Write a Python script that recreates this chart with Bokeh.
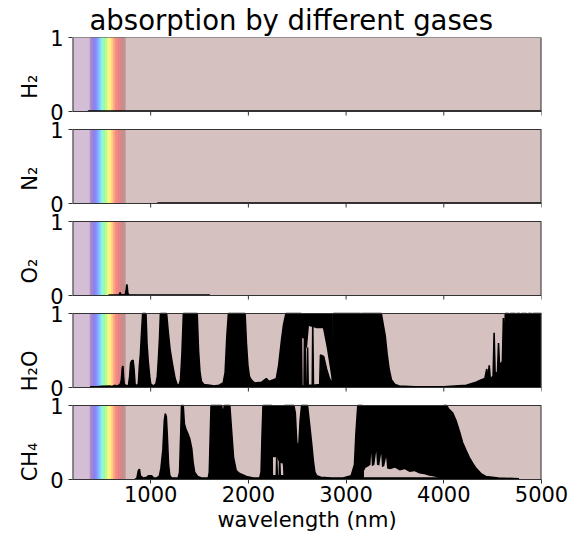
import math
from bokeh.plotting import figure
from bokeh.models import Range1d, FixedTicker, LinearAxis
from bokeh.embed import file_html
from bokeh.resources import INLINE

title_text = "absorption by different gases"
x_label = "wavelength (nm)"
gas_labels = ["H₂", "N₂", "O₂", "H₂O", "CH₄"]
x_ticks = [1000, 2000, 3000, 4000, 5000]
y_ticks = [0, 1]
x_min, x_max = 200, 5000

# background regions (nm)
uv_left, uv_right = [200], [380]
rainbow_left = [380, 400, 420, 440, 460, 480, 500, 520, 540, 560, 580, 600, 620, 640, 660, 680, 700, 720]
rainbow_right = [400, 420, 440, 460, 480, 500, 520, 540, 560, 580, 600, 620, 640, 660, 680, 700, 720, 740]
rainbow_colors = ["#ab8ccc", "#9a84dc", "#8c82f2", "#8494ff", "#84b4ff", "#86dcff", "#8cfce0",
                  "#9cfc9c", "#c4fc8c", "#f2fc84", "#fff084", "#ffcc84", "#ffa684", "#f88884",
                  "#ee8484", "#dc8686", "#cc8a8a", "#c49090"]

# H2
h2_wl = [357, 1000, 2000, 3000, 4000, 5000]
h2_abs = [0.006, 0.006, 0.006, 0.006, 0.006, 0.006]

# N2
n2_wl = [1067, 2000, 3000, 4000, 5000]
n2_abs = [0.006, 0.006, 0.006, 0.006, 0.006]

# O2
o2_wl = [568, 650, 680, 687, 694, 740, 750, 756, 760, 766, 775, 900, 1200, 1606]
o2_abs = [0.006, 0.006, 0.01, 0.04, 0.01, 0.01, 0.08, 0.15, 0.12, 0.03, 0.01, 0.006, 0.006, 0.006]

# H2O
h2o_wl = [380, 450, 500, 585, 600, 636, 650, 687, 700, 710, 716, 722, 730, 745, 772, 785, 795, 806,
          820, 830, 840, 850, 874, 885, 895, 905, 918, 952, 962, 975, 990, 1000, 1027, 1054, 1068,
          1080, 1090, 1100, 1163, 1180, 1200, 1225, 1250, 1270, 1290, 1305, 1320, 1335, 1476, 1490,
          1505, 1520, 1545, 1606, 1650, 1700, 1742, 1762, 1780, 1796, 1966, 1980, 1995, 2010, 2031,
          2065, 2133, 2184, 2210, 2250, 2286, 2310, 2340, 2360, 2385, 2540, 2548, 2570, 2574, 2580,
          2586, 2602, 2606, 2612, 2654, 2659, 2666, 2730, 2738, 2770, 2800, 2830, 2860, 2870, 3150,
          3155, 3160, 3360, 3380, 3400, 3420, 3440, 3465, 3500, 3545, 3700, 4000, 4230, 4330, 4380,
          4420, 4440, 4450, 4465, 4475, 4505, 4515, 4525, 4550, 4560, 4570, 4600, 4610, 4620, 4630,
          4662, 4669, 4678, 4730, 4737, 4745, 4780, 4788, 4796, 4848, 4856, 4864, 4900, 4907, 4914,
          5000]
h2o_abs = [0.01, 0.01, 0.015, 0.02, 0.01, 0.03, 0.015, 0.04, 0.1, 0.27, 0.29, 0.15, 0.04, 0.03, 0.02,
           0.15, 0.33, 0.36, 0.37, 0.25, 0.05, 0.02, 0.05, 0.3, 0.45, 0.7, 1.0, 1.0, 0.6, 0.35, 0.15,
           0.05, 0.02, 0.05, 0.15, 0.4, 0.65, 1.0, 1.0, 0.75, 0.5, 0.3, 0.12, 0.04, 0.03, 0.1, 0.45,
           1.0, 1.0, 0.5, 0.2, 0.08, 0.04, 0.03, 0.02, 0.03, 0.06, 0.2, 0.7, 1.0, 1.0, 0.6, 0.3, 0.15,
           0.1, 0.06, 0.07, 0.12, 0.08, 0.1, 0.12, 0.3, 0.65, 0.85, 1.0, 1.0, 0.02, 0.02, 0.66, 0.66,
           0.03, 0.03, 0.54, 0.03, 0.03, 0.84, 0.03, 0.04, 0.44, 0.42, 0.25, 0.12, 0.05, 1.0, 1.0,
           0.6, 1.0, 1.0, 0.85, 0.7, 0.45, 0.25, 0.1, 0.04, 0.02, 0.01, 0.01, 0.03, 0.07, 0.1,
           0.12, 0.25, 0.1, 0.3, 0.12, 0.15, 0.74, 0.2, 0.2, 0.6, 0.3, 0.35, 0.94, 0.5, 1.0,
           1.0, 0.4, 1.0, 1.0, 0.5, 1.0, 1.0, 0.45, 1.0, 1.0, 0.05, 1.0, 1.0, 0.75, 1.0,
           1.0]
# H2O saturated upper band above the gaps near 2.7 um
h2o_band_wl = [2540, 2548, 2570, 2585, 2600, 2620, 2700, 2763, 2800, 2830, 2865]
h2o_band_lo = [0.0, 0.67, 0.66, 0.55, 0.53, 0.83, 0.8, 0.8, 0.55, 0.3, 0.0]
h2o_band_hi = [1.0, 1.0, 1.0, 1.0, 1.0, 1.0, 1.0, 1.0, 1.0, 1.0, 1.0]

# CH4
ch4_wl = [840, 860, 874, 885, 895, 925, 960, 976, 1010, 1030, 1060, 1090, 1105, 1125, 1140, 1150,
          1160, 1170, 1183, 1196, 1215, 1282, 1296, 1305, 1316, 1333, 1345, 1360, 1380, 1400, 1420,
          1435, 1450, 1480, 1520, 1590, 1600, 1610, 1618, 1725, 1740, 1755, 1810, 1826, 1848, 1875,
          1910, 1945, 1980, 2050, 2116, 2130, 2140, 2150, 2240, 2245, 2286, 2290, 2296, 2316, 2320,
          2326, 2365, 2372, 2465, 2480, 2495, 2515, 2530, 2545, 2605, 2630, 2650, 2665, 2680, 2700,
          2740, 2850, 2970, 3052, 3086, 3100, 3120, 3165, 3175, 3990, 4000, 4030, 4050, 4090, 4124,
          4160, 4192, 4225, 4260, 4295, 4330, 4380, 4430, 4560, 4770]
ch4_abs = [0.0, 0.02, 0.12, 0.14, 0.05, 0.02, 0.03, 0.05, 0.05, 0.02, 0.02, 0.05, 0.15, 0.4, 0.8, 0.89,
           0.85, 0.6, 0.2, 0.05, 0.02, 0.02, 0.1, 0.5, 1.0, 1.0, 0.75, 0.68, 0.62, 0.55, 0.42,
           0.22, 0.1, 0.04, 0.02, 0.02, 0.1, 0.6, 1.0, 1.0, 0.88, 1.0, 1.0, 0.7, 0.3, 0.12,
           0.08, 0.06, 0.04, 0.02, 0.02, 0.1, 0.6, 1.0, 1.0, 0.05, 0.05, 0.3, 0.05, 0.05, 0.3,
           0.05, 0.05, 1.0, 1.0, 0.9, 0.5, 0.43, 0.8, 1.0, 1.0, 0.7, 0.45, 0.25, 0.1, 0.05,
           0.03, 0.02, 0.02, 0.05, 0.2, 0.6, 1.0, 1.0, 0.02, 0.02, 1.0, 1.0, 0.95, 0.9, 0.8,
           0.65, 0.5, 0.4, 0.3, 0.22, 0.15, 0.08, 0.04, 0.02, 0.01]
# CH4 saturated upper bands above the gaps
ch4_band1_wl = [2240, 2245, 2270, 2290, 2310, 2330, 2350, 2365, 2372]
ch4_band1_lo = [0.05, 0.3, 0.3, 0.3, 0.25, 0.22, 0.22, 0.05, 0.0]
ch4_band1_hi = [1.0, 1.0, 1.0, 1.0, 1.0, 1.0, 1.0, 1.0, 1.0]
ch4_band2_wl = [3165, 3172, 3185, 3200, 3230, 3250, 3257, 3264, 3290, 3308, 3316, 3340, 3359, 3367,
                3390, 3410, 3420, 3450, 3500, 3550, 3600, 3650, 3700, 3750, 3800, 3850, 3900, 3954,
                3990, 4000]
ch4_band2_lo = [0.0, 0.0, 0.12, 0.16, 0.18, 0.2, 0.36, 0.18, 0.2, 0.38, 0.2, 0.19, 0.35, 0.17,
                0.18, 0.3, 0.15, 0.14, 0.16, 0.12, 0.14, 0.1, 0.11, 0.08, 0.07, 0.05, 0.04, 0.02,
                0.0, 0.0]
ch4_band2_hi = [1.0] * len(ch4_band2_wl)

series = [
    (h2_wl, h2_abs, []),
    (n2_wl, n2_abs, []),
    (o2_wl, o2_abs, []),
    (h2o_wl, h2o_abs, [(h2o_band_wl, h2o_band_lo, h2o_band_hi)]),
    (ch4_wl, ch4_abs, [(ch4_band1_wl, ch4_band1_lo, ch4_band1_hi),
                       (ch4_band2_wl, ch4_band2_lo, ch4_band2_hi)]),
]

FONT = "DejaVu Sans"
BG = "#d5c1c0"
UV = "#d4bed5"
EDGE = "#333333"

FRAME_W = 469
PANEL_H = 74                 # pixel height of one panel
PERIOD = 92                  # panel + white gap, pixels
n = len(gas_labels)
FRAME_H = (n - 1) * PERIOD + PANEL_H
TICK = 4 / PANEL_H

p = figure(frame_width=FRAME_W, frame_height=FRAME_H,
           x_range=Range1d(x_min, x_max), y_range=Range1d(0, FRAME_H),
           output_backend="svg", toolbar_location=None,
           min_border_left=72, min_border_right=32, min_border_top=37, min_border_bottom=57)
p.background_fill_color = "white"
p.border_fill_color = "white"
p.outline_line_color = None
p.grid.visible = False

tick_pos, tick_txt, name_pos, name_txt = [], [], [], []
for k, (label, (wl, ab, bands)) in enumerate(zip(gas_labels, series)):
    base = (n - 1 - k) * PERIOD          # panel bottom, pixels above frame bottom
    rn = f"panel{k}"
    p.extra_y_ranges[rn] = Range1d(-base / PANEL_H, (FRAME_H - base) / PANEL_H)

    # panel background, UV and visible spectrum
    p.quad(left=[x_min], right=[x_max], bottom=0, top=1, fill_color=BG, line_color=None,
           y_range_name=rn)
    p.quad(left=uv_left, right=uv_right, bottom=0, top=1, fill_color=UV, line_color=None,
           y_range_name=rn)
    p.quad(left=rainbow_left, right=rainbow_right, bottom=0, top=1,
           fill_color=rainbow_colors, line_color=rainbow_colors, line_width=0.6, y_range_name=rn)

    # absorption
    p.varea(x=wl, y1=[0] * len(wl), y2=ab, fill_color="black", y_range_name=rn)
    for bwl, blo, bhi in bands:
        p.varea(x=bwl, y1=blo, y2=bhi, fill_color="black", y_range_name=rn)
    p.line(x=wl, y=ab, line_color="black", line_width=1.6, y_range_name=rn)

    # spines
    p.multi_line(xs=[[x_min, x_max], [x_min, x_max]], ys=[[0, 0], [1, 1]],
                 line_color=EDGE, line_width=1, y_range_name=rn)
    p.multi_line(xs=[[x_min, x_min], [x_max, x_max]], ys=[[0, 1], [0, 1]],
                 line_color=EDGE, line_width=2, y_range_name=rn)
    # x tick marks under the upper panels
    if k < n - 1:
        p.segment(x0=x_ticks, y0=[0] * len(x_ticks), x1=x_ticks, y1=[-TICK] * len(x_ticks),
                  line_color=EDGE, line_width=1, y_range_name=rn)

    for v in y_ticks:
        tick_pos.append(base + v * PANEL_H)
        tick_txt.append(str(v))
    name_pos.append(base + PANEL_H // 2)
    name_txt.append(label)

# x axis
xa = p.xaxis[0]
xa.ticker = FixedTicker(ticks=x_ticks)
xa.minor_tick_line_color = None
xa.major_tick_in = 0
xa.major_tick_out = 4
xa.major_tick_line_color = EDGE
xa.axis_line_color = EDGE
xa.major_label_text_font = FONT
xa.major_label_text_font_size = "21px"
xa.major_label_text_color = "black"
xa.major_label_standoff = 2
xa.axis_label = x_label
xa.axis_label_text_font = FONT
xa.axis_label_text_font_size = "21px"
xa.axis_label_text_font_style = "normal"
xa.axis_label_text_color = "black"
xa.axis_label_standoff = 3

# y axis with 0 / 1 for every panel
ya = p.yaxis[0]
ya.ticker = FixedTicker(ticks=tick_pos)
ya.major_label_overrides = {t: s for t, s in zip(tick_pos, tick_txt)}
ya.minor_tick_line_color = None
ya.major_tick_in = 0
ya.major_tick_out = 4
ya.major_tick_line_color = EDGE
ya.axis_line_color = None
ya.major_label_text_font = FONT
ya.major_label_text_font_size = "21px"
ya.major_label_text_color = "black"
ya.major_label_standoff = 5

# gas names, one per panel
na = LinearAxis(ticker=FixedTicker(ticks=name_pos),
                major_label_overrides={t: s for t, s in zip(name_pos, name_txt)})
na.major_label_orientation = math.pi / 2
na.minor_tick_line_color = None
na.major_tick_line_color = None
na.major_tick_in = 0
na.major_tick_out = 0
na.axis_line_color = None
na.major_label_text_font = FONT
na.major_label_text_font_size = "21px"
na.major_label_text_color = "black"
na.major_label_standoff = 18
p.add_layout(na, "left")

p.title.text = title_text
p.title.align = "left"
p.title.offset = 17
p.title.standoff = 3
p.title.text_font = FONT
p.title.text_font_size = "27.5px"
p.title.text_font_style = "normal"
p.title.text_color = "black"

open("out.html", "w").write(file_html(p, INLINE))
